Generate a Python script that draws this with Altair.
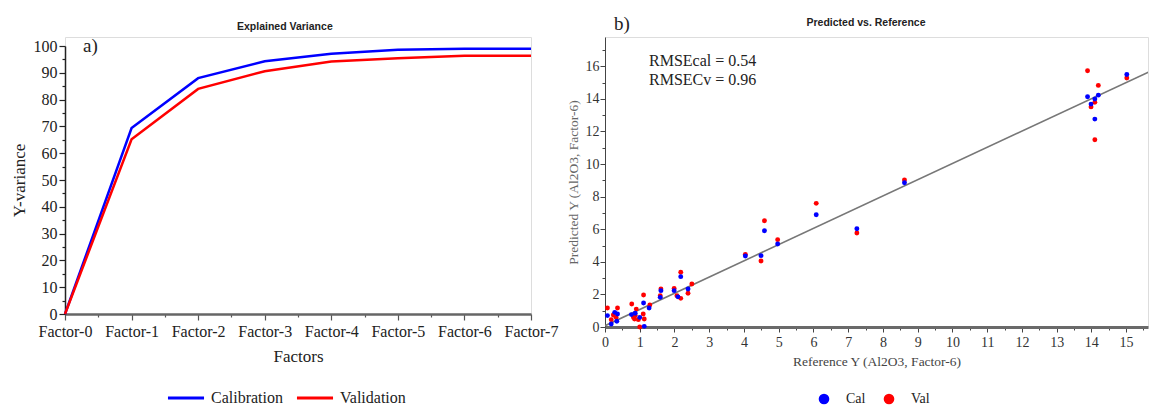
import json
import altair as alt
import pandas as pd

# ---------------- data: panel a) explained variance ----------------
factors = ["Factor-0", "Factor-1", "Factor-2", "Factor-3", "Factor-4", "Factor-5", "Factor-6", "Factor-7"]
cal_variance = [0.0, 69.4, 88.0, 94.3, 97.1, 98.6, 99.0, 99.0]
val_variance = [0.0, 65.2, 84.0, 90.6, 94.2, 95.4, 96.4, 96.4]
variance_series = ["Calibration", "Validation"]

# ---------------- data: panel b) predicted vs reference ----------------
cal_ref = [0.07, 0.18, 0.28, 0.36, 0.34, 0.76, 0.87, 1.00, 1.11, 1.13, 1.27, 1.61, 1.59, 1.99, 2.10,
           2.18, 2.39, 4.04, 4.49, 4.59, 4.97, 6.08, 7.25, 8.62, 13.89, 14.20, 14.10, 13.99, 14.10, 15.02]
cal_pred = [0.70, 0.18, 0.90, 0.80, 0.35, 0.76, 0.84, 0.59, 1.47, 0.04, 1.17, 2.23, 1.82, 2.23, 1.85,
            3.09, 2.33, 4.36, 4.38, 5.91, 5.09, 6.89, 6.03, 8.85, 14.13, 14.23, 13.99, 13.68, 12.76, 15.50]
val_ref = [0.07, 0.18, 0.24, 0.32, 0.36, 0.77, 0.82, 0.87, 0.90, 0.85, 0.96, 1.00, 1.11, 1.10, 1.13,
           1.29, 1.61, 1.59, 1.99, 2.07, 2.18, 2.18, 2.39, 2.50, 4.04, 4.49, 4.59, 4.97, 6.08, 7.25,
           8.62, 13.89, 14.20, 14.10, 13.99, 14.10, 15.02]
val_pred = [1.17, 0.45, 0.74, 0.59, 1.17, 1.41, 0.59, 0.70, 1.10, 0.49, 0.45, 0.00, 1.96, 0.80, 0.49,
            1.35, 2.33, 1.92, 2.37, 1.92, 3.36, 1.76, 2.07, 2.64, 4.46, 4.05, 6.52, 5.36, 7.59, 5.77,
            9.02, 15.73, 14.83, 13.79, 13.51, 11.49, 15.28]
pred_series = ["Cal", "Val"]
fit_ref = [0.0, 15.9]
fit_pred = [0.08, 15.9]

title_a = "Explained Variance"
title_b = "Predicted vs. Reference"
panel_labels = ["a)", "b)"]
rmse_lines = ["RMSEcal = 0.54", "RMSECv = 0.96"]

SERIF = "Liberation Serif"
SANS = "Liberation Sans"

# ---------------- panel a ----------------
rows_a = []
for i, f in enumerate(factors):
    rows_a.append({"idx": i, "factor": f, "value": cal_variance[i], "series": variance_series[0]})
for i, f in enumerate(factors):
    rows_a.append({"idx": i, "factor": f, "value": val_variance[i], "series": variance_series[1]})
df_a = pd.DataFrame(rows_a)

W_A = 466
H_A = 277
label_expr_a = "datum.value % 1 === 0 ? " + json.dumps(factors) + "[datum.value] : ''"

lines_a = alt.Chart(df_a).mark_line(strokeWidth=2.5).encode(
    x=alt.X("idx:Q",
            scale=alt.Scale(domain=[0, len(factors) - 1], nice=False, zero=False),
            axis=alt.Axis(title="Factors", values=[i / 2 for i in range(2 * len(factors) - 1)],
                          grid=False, labelExpr=label_expr_a,
                          tickSize={"condition": {"test": "datum.value % 1 === 0", "value": 6}, "value": 3},
                          labelFont=SERIF, labelFontSize=16, labelColor="#222",
                          labelPadding=3, labelOverlap=False, labelFlush=False,
                          titleFont=SERIF, titleFontSize=17, titleFontWeight="normal", titleColor="#222",
                          titlePadding=9,
                          domainColor="#666", domainWidth=2.5, tickColor="#555", tickWidth=1.2)),
    y=alt.Y("value:Q",
            scale=alt.Scale(domain=[0, 100], range=[H_A, 9], nice=False),
            axis=alt.Axis(title="Y-variance", values=list(range(0, 101, 5)), grid=False,
                          labelExpr="datum.value % 10 === 0 ? datum.label : ''",
                          tickSize={"condition": {"test": "datum.value % 10 === 0", "value": 6}, "value": 3},
                          labelFont=SERIF, labelFontSize=16, labelColor="#222", labelPadding=2,
                          titleFont=SERIF, titleFontSize=17, titleFontWeight="normal", titleColor="#222",
                          titlePadding=5,
                          domainColor="#222", domainWidth=1.5, tickColor="#222", tickWidth=1.2)),
    color=alt.Color("series:N",
                    scale=alt.Scale(domain=variance_series, range=["#0000ff", "#ff0000"]),
                    legend=alt.Legend(orient="none", legendX=101, legendY=341, direction="horizontal",
                                      title=None, symbolType="stroke", symbolStrokeWidth=3,
                                      symbolSize=1300, labelFont=SERIF, labelFontSize=16,
                                      labelColor="#222", labelOffset=5, columnPadding=7, padding=0)),
)

label_a = alt.Chart(pd.DataFrame({"t": [panel_labels[0]]})).mark_text(
    font=SERIF, fontSize=19, align="left", baseline="middle", color="#222"
).encode(x=alt.value(18), y=alt.value(9), text="t:N")

left = alt.layer(lines_a, label_a).properties(
    width=W_A, height=H_A,
    title=alt.TitleParams(title_a, font=SANS, fontSize=10.5, fontWeight="bold", color="#222",
                          anchor="start", frame="group", dx=172, offset=5),
)

# ---------------- panel b ----------------
rows_b = []
for xv, yv in zip(val_ref, val_pred):
    rows_b.append({"ref": xv, "pred": yv, "series": pred_series[1]})
for xv, yv in zip(cal_ref, cal_pred):
    rows_b.append({"ref": xv, "pred": yv, "series": pred_series[0]})
df_b = pd.DataFrame(rows_b)
df_fit = pd.DataFrame({"ref": fit_ref, "pred": fit_pred})

W_B = 543
H_B = 290
X_MAX = 15.63
Y_MAX = 17.8

x_b = alt.X("ref:Q",
            scale=alt.Scale(domain=[0, X_MAX], nice=False, zero=False),
            axis=alt.Axis(title="Reference Y (Al2O3, Factor-6)", values=[i / 2 for i in range(32)],
                          grid=False,
                          labelExpr="datum.value % 1 === 0 ? format(datum.value, 'd') : ''",
                          tickSize={"condition": {"test": "datum.value % 1 === 0", "value": 5}, "value": 3},
                          labelFont=SERIF, labelFontSize=14, labelColor="#333", labelPadding=3,
                          labelFlush=False,
                          titleFont=SERIF, titleFontSize=13.5, titleFontWeight="normal", titleColor="#444",
                          titlePadding=5,
                          domainColor="#6a6a6a", domainWidth=3, tickColor="#444", tickWidth=1))
y_b = alt.Y("pred:Q",
            scale=alt.Scale(domain=[0, Y_MAX], nice=False, zero=False),
            axis=alt.Axis(title="Predicted Y (Al2O3, Factor-6)", values=list(range(0, 18)), grid=False,
                          labelExpr="datum.value % 2 === 0 ? format(datum.value, 'd') : ''",
                          tickSize={"condition": {"test": "datum.value % 2 === 0", "value": 5}, "value": 3},
                          labelFont=SERIF, labelFontSize=14, labelColor="#333", labelPadding=1,
                          titleFont=SERIF, titleFontSize=13.5, titleFontWeight="normal", titleColor="#666",
                          titlePadding=5,
                          domainColor="#444", domainWidth=1, tickColor="#444", tickWidth=1))

fit_line = alt.Chart(df_fit).mark_line(color="#777", strokeWidth=1.6, clip=True).encode(x=x_b, y=y_b)

points = alt.Chart(df_b).mark_circle(size=24, opacity=1).encode(
    x=x_b, y=y_b,
    color=alt.Color("series:N",
                    scale=alt.Scale(domain=pred_series, range=["#0000ff", "#ff0000"]),
                    legend=alt.Legend(orient="none", legendX=212, legendY=355, direction="horizontal",
                                      title=None, symbolType="circle", symbolSize=113,
                                      symbolStrokeWidth=0, symbolOpacity=1,
                                      labelFont=SERIF, labelFontSize=14, labelColor="#222",
                                      labelOffset=15, columnPadding=16, padding=0)),
)

title_b_mark = alt.Chart(pd.DataFrame({"t": [title_b]})).mark_text(
    font=SANS, fontSize=10.5, fontWeight="bold", align="center", baseline="middle", color="#222"
).encode(x=alt.value(261), y=alt.value(-14), text="t:N")

label_b = alt.Chart(pd.DataFrame({"t": [panel_labels[1]]})).mark_text(
    font=SERIF, fontSize=19, align="left", baseline="middle", color="#222"
).encode(x=alt.value(9), y=alt.value(-13), text="t:N")

rmse_df = pd.DataFrame({"t": rmse_lines, "k": [0, 1]})
rmse_layers = []
for k, ypos in zip([0, 1], [24, 43]):
    rmse_layers.append(
        alt.Chart(rmse_df).transform_filter(alt.datum.k == k).mark_text(
            font=SERIF, fontSize=16, align="left", baseline="middle", color="#222"
        ).encode(x=alt.value(44), y=alt.value(ypos), text="t:N")
    )

right = alt.layer(fit_line, points, *rmse_layers, title_b_mark, label_b).properties(width=W_B, height=H_B)

chart = alt.hconcat(left, right, spacing=6).resolve_scale(
    color="independent").resolve_legend(color="independent").properties(
    padding={"left": 1, "top": 6, "right": 0, "bottom": 0}
).configure_view(stroke=None).configure_axis(grid=False).configure(background="white")

chart.save("out.html", embed_options={"renderer": "svg", "actions": False})
